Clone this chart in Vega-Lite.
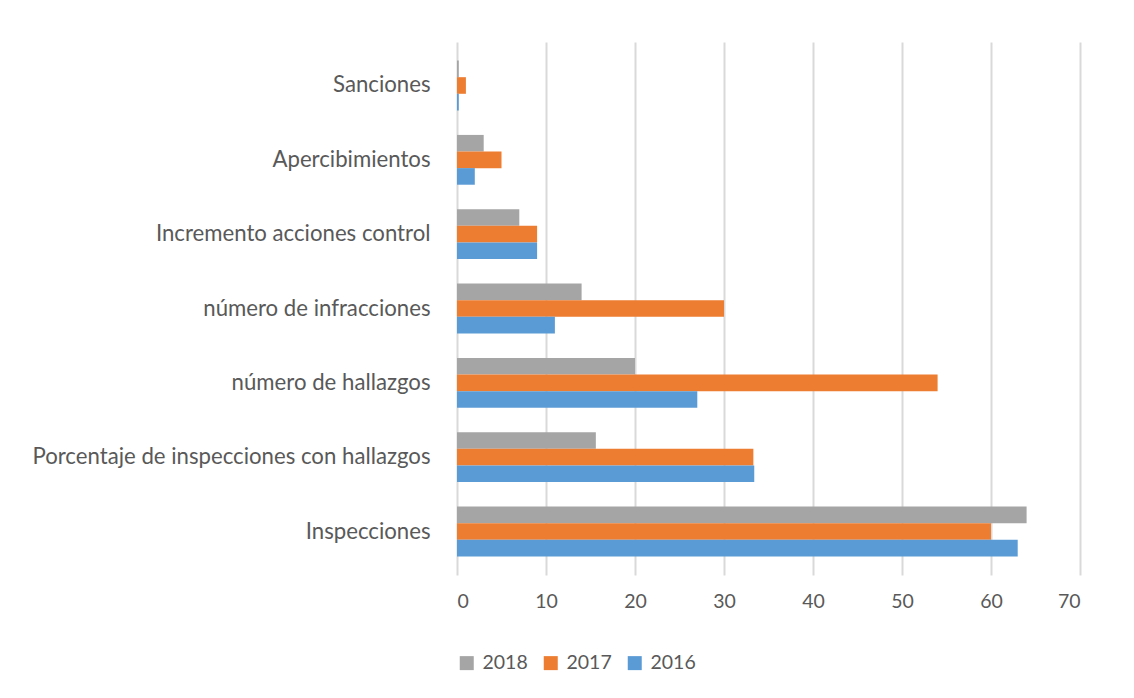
{
  "$schema": "https://vega.github.io/schema/vega-lite/v6.json",
  "autosize": "none",
  "width": 623,
  "height": 533,
  "padding": {"left": 457, "top": 42, "right": 54, "bottom": 123},
  "background": "white",
  "config": {"view": {"stroke": null}, "font": "Lato"},
  "data": {
    "values": [
      {"categoria": "Sanciones", "anio": "2018", "valor": 0.2},
      {"categoria": "Sanciones", "anio": "2017", "valor": 1},
      {"categoria": "Sanciones", "anio": "2016", "valor": 0.2},
      {"categoria": "Apercibimientos", "anio": "2018", "valor": 3},
      {"categoria": "Apercibimientos", "anio": "2017", "valor": 5},
      {"categoria": "Apercibimientos", "anio": "2016", "valor": 2},
      {"categoria": "Incremento acciones control", "anio": "2018", "valor": 7},
      {"categoria": "Incremento acciones control", "anio": "2017", "valor": 9},
      {"categoria": "Incremento acciones control", "anio": "2016", "valor": 9},
      {"categoria": "número de infracciones", "anio": "2018", "valor": 14},
      {"categoria": "número de infracciones", "anio": "2017", "valor": 30},
      {"categoria": "número de infracciones", "anio": "2016", "valor": 11},
      {"categoria": "número de hallazgos", "anio": "2018", "valor": 20},
      {"categoria": "número de hallazgos", "anio": "2017", "valor": 54},
      {"categoria": "número de hallazgos", "anio": "2016", "valor": 27},
      {"categoria": "Porcentaje de inspecciones con hallazgos", "anio": "2018", "valor": 15.6},
      {"categoria": "Porcentaje de inspecciones con hallazgos", "anio": "2017", "valor": 33.3},
      {"categoria": "Porcentaje de inspecciones con hallazgos", "anio": "2016", "valor": 33.4},
      {"categoria": "Inspecciones", "anio": "2018", "valor": 64},
      {"categoria": "Inspecciones", "anio": "2017", "valor": 60},
      {"categoria": "Inspecciones", "anio": "2016", "valor": 63}
    ]
  },
  "mark": {"type": "bar"},
  "encoding": {
    "y": {
      "field": "categoria",
      "type": "nominal",
      "sort": ["Sanciones", "Apercibimientos", "Incremento acciones control", "número de infracciones", "número de hallazgos", "Porcentaje de inspecciones con hallazgos", "Inspecciones"],
      "scale": {"paddingInner": 0.33, "paddingOuter": 0.25},
      "axis": {"title": null, "domain": false, "ticks": false, "labelFontSize": 22.2, "labelColor": "#595959", "labelPadding": 27, "labelLimit": 0}
    },
    "yOffset": {
      "field": "anio",
      "type": "nominal",
      "sort": ["2018", "2017", "2016"],
      "scale": {"paddingInner": 0, "paddingOuter": 0}
    },
    "x": {
      "field": "valor",
      "type": "quantitative",
      "scale": {"domain": [0, 70], "nice": false},
      "axis": {"title": null, "values": [0, 10, 20, 30, 40, 50, 60, 70], "domain": false, "ticks": false, "grid": true, "gridColor": "#d9d9d9", "gridWidth": 2, "labelFontSize": 19.5, "labelColor": "#595959", "labelPadding": 17}
    },
    "color": {
      "field": "anio",
      "type": "nominal",
      "scale": {"domain": ["2018", "2017", "2016"], "range": ["#A5A5A5", "#ED7D31", "#5B9BD5"]},
      "legend": {"title": null, "orient": "none", "legendX": 0, "legendY": 611, "direction": "horizontal", "symbolType": "square", "symbolSize": 196, "symbolStrokeWidth": 0, "labelFontSize": 19.5, "labelColor": "#595959", "columnPadding": 13, "labelOffset": 6}
    }
  }
}
